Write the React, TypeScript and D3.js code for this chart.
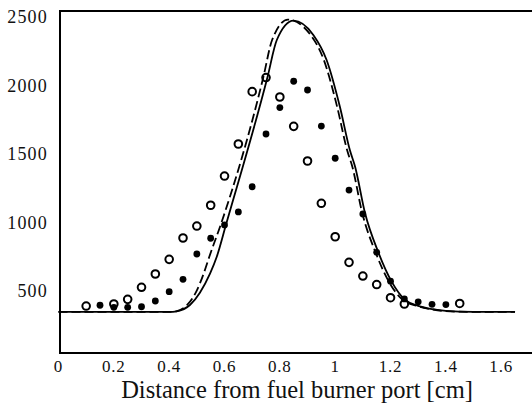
import React from "react";
import * as d3 from "d3";

const xTicks = [0, 0.2, 0.4, 0.6, 0.8, 1, 1.2, 1.4, 1.6];
const yTicks = [500, 1000, 1500, 2000, 2500];

const openX = [0.1, 0.2, 0.25, 0.3, 0.35, 0.4, 0.45, 0.5, 0.55, 0.6, 0.65, 0.7, 0.75, 0.8, 0.85, 0.9, 0.95, 1.0, 1.05, 1.1, 1.15, 1.2, 1.25, 1.45];
const openY = [390, 405, 439, 527, 624, 731, 887, 974, 1126, 1339, 1573, 1955, 2058, 1916, 1702, 1449, 1140, 896, 709, 609, 547, 451, 405, 409];

const filledX = [0.15, 0.2, 0.25, 0.3, 0.35, 0.4, 0.45, 0.5, 0.55, 0.6, 0.65, 0.7, 0.75, 0.8, 0.85, 0.9, 0.95, 1.0, 1.05, 1.1, 1.15, 1.2, 1.25, 1.3, 1.35, 1.4];
const filledY = [396, 381, 381, 385, 427, 495, 585, 770, 885, 982, 1077, 1261, 1646, 1839, 2031, 1967, 1704, 1469, 1237, 1062, 782, 572, 442, 421, 403, 401];

const solidX = [0.0, 0.4, 0.427, 0.475, 0.511, 0.548, 0.572, 0.605, 0.755, 0.789, 0.849, 0.921, 0.969, 1.017, 1.053, 1.072, 1.108, 1.156, 1.204, 1.253, 1.3, 1.35, 1.4, 1.5, 1.65];
const solidY = [347, 347, 352, 398, 488, 629, 750, 982, 2058, 2332, 2473, 2369, 2186, 1845, 1529, 1407, 1067, 782, 568, 434, 392, 368, 355, 348, 347];

const dashX = [0.0, 0.4, 0.425, 0.465, 0.496, 0.525, 0.545, 0.586, 0.74, 0.772, 0.829, 0.911, 0.959, 1.007, 1.043, 1.062, 1.098, 1.146, 1.194, 1.245, 1.295, 1.35, 1.4, 1.5, 1.65];
const dashY = [347, 347, 352, 398, 488, 629, 750, 982, 2058, 2332, 2481, 2369, 2186, 1845, 1529, 1407, 1067, 782, 568, 434, 392, 366, 353, 347, 347];

const W = 532;
const H = 404;
const FONT = "'Liberation Serif', 'Times New Roman', serif";

export default function App() {
  const x = d3.scaleLinear().domain([0, 1.6]).range([58.5, 501.2]);
  const y = d3.scaleLinear().domain([0, 2500]).range([359.5, 17]);

  const solid = solidX.map((v, i) => [v, solidY[i]] as [number, number]);
  const dashed = dashX.map((v, i) => [v, dashY[i]] as [number, number]);
  const line = d3
    .line<[number, number]>()
    .x((d) => x(d[0]))
    .y((d) => y(d[1]))
    .curve(d3.curveMonotoneX);

  const left = 60;
  const top = 11;
  const bottom = 353;

  return (
    <svg
      width={W}
      height={H}
      style={{ position: "absolute", left: 0, top: 0, background: "#fff" }}
    >
      <rect x={0} y={0} width={W} height={H} fill="#fff" />
      {/* frame */}
      <line x1={left} y1={top} x2={W} y2={top} stroke="#000" strokeWidth={2} />
      <line x1={left} y1={bottom} x2={W} y2={bottom} stroke="#000" strokeWidth={2} />
      <line x1={left} y1={top - 1} x2={left} y2={bottom + 1} stroke="#000" strokeWidth={2} />

      {/* y tick labels */}
      {yTicks.map((t) => (
        <text
          key={"y" + t}
          x={48}
          y={y(t)}
          dy="0.35em"
          textAnchor="end"
          fontFamily={FONT}
          fontSize={18}
          letterSpacing={1.2}
          fill="#111"
        >
          {t}
        </text>
      ))}

      {/* x tick labels */}
      {xTicks.map((t) => (
        <text
          key={"x" + t}
          x={x(t)}
          y={372}
          textAnchor="middle"
          fontFamily={FONT}
          fontSize={17}
          letterSpacing={0.8}
          fill="#111"
        >
          {d3.format("~g")(t)}
        </text>
      ))}

      <text
        x={297}
        y={397.5}
        textAnchor="middle"
        fontFamily={FONT}
        fontSize={24.5}
        fill="#111"
      >
        Distance from fuel burner port [cm]
      </text>

      {/* curves */}
      <path d={line(solid) || ""} fill="none" stroke="#000" strokeWidth={1.8} />
      <path
        d={line(dashed) || ""}
        fill="none"
        stroke="#000"
        strokeWidth={1.8}
        strokeDasharray="9,4"
      />

      {/* filled points */}
      {filledX.map((v, i) => (
        <circle key={"f" + i} cx={x(v)} cy={y(filledY[i])} r={3.4} fill="#000" />
      ))}
      {/* open points */}
      {openX.map((v, i) => (
        <circle
          key={"o" + i}
          cx={x(v)}
          cy={y(openY[i])}
          r={3.8}
          fill="none"
          stroke="#000"
          strokeWidth={2}
        />
      ))}
    </svg>
  );
}
